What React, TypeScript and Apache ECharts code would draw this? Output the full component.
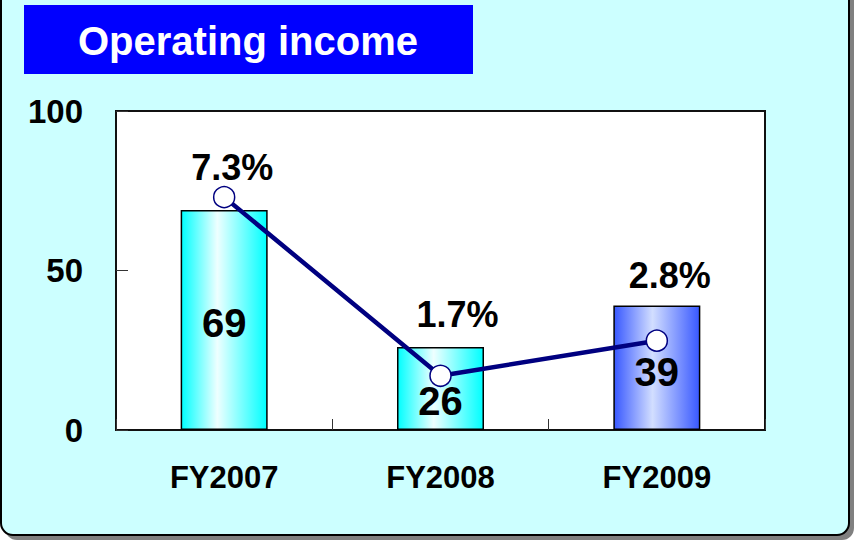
import React, { useEffect, useRef } from "react";
import * as echarts from "echarts";

const categories = ["FY2007", "FY2008", "FY2009"];
const incomeValues = [69, 26, 39];
const marginValues = [7.3, 1.7, 2.8];
const yTicks = { min: 0, max: 100, interval: 50 };
const titleText = "Operating income";

// label placement tweaks (styles, not data)
const pctOffsets: [number, number][] = [[8, 0], [17, -32], [13, -36]];
const barLabelOffsets: [number, number][] = [[0, 3], [0, 12], [0, 4]];

const FONT = "'Liberation Sans', Arial, Helvetica, sans-serif";

function cyanGrad() {
  return new echarts.graphic.LinearGradient(0, 0, 1, 0, [
    { offset: 0, color: "#00FFFF" },
    { offset: 0.42, color: "#EEFFFF" },
    { offset: 1, color: "#00FFFF" },
  ]);
}
function blueGrad() {
  return new echarts.graphic.LinearGradient(0, 0, 1, 0, [
    { offset: 0, color: "#3858FF" },
    { offset: 0.45, color: "#D2DEFF" },
    { offset: 1, color: "#3858FF" },
  ]);
}

export default function App() {
  const ref = useRef<HTMLDivElement>(null);
  useEffect(() => {
    if (!ref.current) return;
    const chart = echarts.init(ref.current, null, { renderer: "svg" });
    chart.setOption({
      animation: false,
      backgroundColor: "transparent",
      graphic: [
        {
          type: "rect",
          z: -10,
          shape: { x: 5, y: -20, width: 849, height: 560, r: 12 },
          style: { fill: "#808080" },
        },
        {
          type: "rect",
          z: -9,
          shape: { x: 1, y: -20, width: 848, height: 555, r: 12 },
          style: { fill: "#CCFFFF", stroke: "#000000", lineWidth: 2 },
        },
        {
          type: "rect",
          z: 5,
          shape: { x: 24, y: 5, width: 449, height: 69 },
          style: { fill: "#0000FF" },
        },
        {
          type: "text",
          z: 6,
          x: 248,
          y: 41,
          style: {
            text: titleText,
            fill: "#FFFFFF",
            font: `bold 40px ${FONT}`,
            align: "center",
            verticalAlign: "middle",
          },
        },
      ],
      grid: {
        left: 116,
        right: 89,
        top: 111,
        bottom: 110,
        show: true,
        backgroundColor: "#FFFFFF",
        borderColor: "#111111",
        borderWidth: 2,
      },
      xAxis: {
        type: "category",
        data: categories,
        axisLine: { show: true, lineStyle: { color: "#111111", width: 2 } },
        axisTick: { show: true, inside: true, length: 11, alignWithLabel: false, lineStyle: { color: "#333333" } },
        axisLabel: { color: "#000000", fontSize: 31, fontWeight: "bold", fontFamily: FONT, margin: 32 },
        splitLine: { show: false },
      },
      yAxis: [
        {
          type: "value",
          min: yTicks.min,
          max: yTicks.max,
          interval: yTicks.interval,
          axisLine: { show: true, lineStyle: { color: "#111111", width: 2 } },
          axisTick: { show: true, inside: true, length: 12, lineStyle: { color: "#333333" } },
          axisLabel: { color: "#000000", fontSize: 33, fontWeight: "bold", fontFamily: FONT, margin: 33 },
          splitLine: { show: false },
        },
        {
          type: "value",
          min: 0,
          max: 10,
          show: false,
          splitLine: { show: false },
        },
      ],
      series: [
        {
          type: "bar",
          yAxisIndex: 0,
          barWidth: 87,
          data: incomeValues.map((v, i) => ({
            value: v,
            itemStyle: {
              color: i === 2 ? blueGrad() : cyanGrad(),
              borderColor: "#000000",
              borderWidth: 1.5,
            },
            label: { offset: barLabelOffsets[i] },
          })),
          label: {
            show: true,
            position: "inside",
            color: "#000000",
            fontSize: 40,
            fontWeight: "bold",
            fontFamily: FONT,
          },
          z: 2,
        },
        {
          type: "line",
          yAxisIndex: 1,
          data: marginValues.map((v, i) => ({
            value: v,
            label: { offset: pctOffsets[i] },
          })),
          lineStyle: { color: "#000080", width: 4.5 },
          symbol: "circle",
          symbolSize: 21,
          itemStyle: { color: "#FFFFFF", borderColor: "#000080", borderWidth: 1.5 },
          label: {
            show: true,
            position: "top",
            distance: 0,
            formatter: (p: any) => `${p.value}%`,
            color: "#000000",
            fontSize: 36,
            fontWeight: "bold",
            fontFamily: FONT,
          },
          z: 3,
        },
      ],
    });
    return () => chart.dispose();
  }, []);
  return (
    <div
      ref={ref}
      style={{ position: "absolute", left: 0, top: 0, width: 854, height: 540 }}
    />
  );
}
